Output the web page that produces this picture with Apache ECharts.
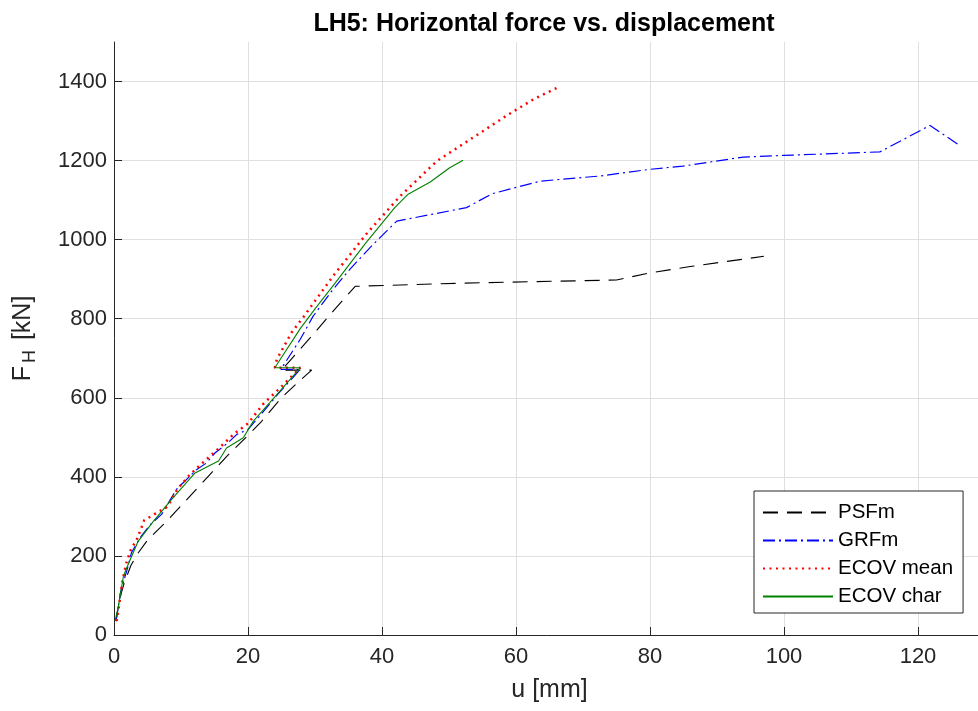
<!DOCTYPE html>
<html>
<head>
<meta charset="utf-8">
<title>LH5: Horizontal force vs. displacement</title>
<script src="https://cdn.jsdelivr.net/npm/echarts@6/dist/echarts.min.js"></script>
<style>
  html, body { margin: 0; padding: 0; background: #fff; }
  #chart { width: 978px; height: 711px; }
</style>
</head>
<body>
<div id="chart"></div>
<script>
// Displacement u [mm] and horizontal force F_H [kN] for each analysis
const psfU = [0.3, 0.8, 1.5, 2.5, 3.5, 5.0, 8.0, 11.0, 14.0, 17.0, 20.0, 22.0, 25.0, 27.5, 29.5, 25.0, 29.3, 33.0, 36.0, 52.0, 75.0, 80.0, 86.0, 97.0];
const psfF = [35, 90, 130, 175, 205, 240, 290, 345, 400, 455, 505, 540, 600, 640, 670, 670, 752, 825, 882, 890, 898, 916, 932, 958];

const grfU = [0.3, 1.0, 2.1, 2.6, 3.9, 5.4, 7.1, 9.3, 12.3, 13.8, 15.1, 17.0, 18.3, 20.0, 21.3, 24.5, 27.8, 24.9, 27.8, 29.7, 32.5, 35.2, 38.5, 42.2, 52.6, 56.4, 63.6, 72.5, 80.0, 84.9, 93.9, 99.9, 114.3, 121.8, 126.3];
const grfF = [35, 110, 174, 208, 246, 279, 305, 368, 418, 435, 461, 486, 507, 520, 545, 610, 672, 672, 748, 806, 870, 925, 985, 1047, 1081, 1116, 1148, 1161, 1178, 1186, 1209, 1213, 1222, 1289, 1237];

const meanU = [0.4, 0.8, 1.2, 1.8, 2.5, 3.5, 4.5, 5.5, 8.0, 9.5, 11.3, 13.0, 15.5, 18.0, 20.0, 22.3, 24.8, 27.8, 24.0, 24.3, 26.5, 28.3, 32.7, 37.7, 42.7, 48.2, 55.1, 58.8, 62.6, 66.1];
const meanF = [35, 80, 130, 180, 215, 245, 290, 300, 325, 370, 405, 432, 470, 510, 535, 585, 625, 676, 676, 697, 765, 805, 908, 1015, 1110, 1199, 1275, 1316, 1355, 1384];

const charU = [0.15, 0.65, 1.4, 1.9, 3.6, 5.9, 8.6, 12.1, 15.6, 16.8, 19.3, 20.8, 24.3, 27.8, 24.0, 27.8, 30.0, 33.0, 37.5, 41.9, 43.9, 47.2, 50.1, 52.1];
const charF = [35, 72, 148, 170, 237, 288, 343, 410, 440, 473, 499, 541, 608, 676, 676, 775, 825, 890, 990, 1081, 1115, 1146, 1182, 1201];

const seriesNames = ['PSFm', 'GRFm', 'ECOV mean', 'ECOV char'];
const xTicks = [0, 20, 40, 60, 80, 100, 120];
const yTicks = [0, 200, 400, 600, 800, 1000, 1200, 1400];

const pairs = (u, f) => u.map((x, i) => [x, f[i]]);

const FONT = 'Liberation Sans, Arial, Helvetica, sans-serif';
const AXIS_COLOR = '#262626';
const GRID_COLOR = '#dfdfdf';

const chart = echarts.init(document.getElementById('chart'), null, { renderer: 'canvas' });

// split lines: one colour per tick, the extra tick at the axis end stays hidden
const ySplitColors = yTicks.map(() => GRID_COLOR).concat(['rgba(0,0,0,0)']);
const xSplitColors = xTicks.map(() => GRID_COLOR).concat(['rgba(0,0,0,0)']);

const option = {
  animation: false,
  backgroundColor: '#ffffff',
  title: {
    text: 'LH5: Horizontal force vs. displacement',
    left: 539,
    textAlign: 'center',
    top: 7,
    textStyle: { fontFamily: FONT, fontSize: 25, fontWeight: 'bold', color: '#000' }
  },
  // the plot area runs past the right edge of the page (axis ends at u = 130)
  grid: { left: 114, top: 42, width: 871, height: 593, containLabel: false, outerBoundsMode: 'none' },
  xAxis: {
    type: 'value',
    min: 0,
    max: 130,
    interval: 20,
    name: 'u [mm]',
    nameLocation: 'middle',
    nameGap: 43,
    nameTextStyle: { fontFamily: FONT, fontSize: 25, color: AXIS_COLOR },
    axisLine: { show: true, lineStyle: { color: AXIS_COLOR, width: 1 } },
    axisTick: { show: true, inside: true, length: 8, lineStyle: { color: AXIS_COLOR } },
    axisLabel: { show: true, fontFamily: FONT, fontSize: 22, color: AXIS_COLOR, margin: 11, showMaxLabel: false,
      formatter: v => (xTicks.indexOf(v) >= 0 ? String(v) : '') },
    splitLine: { show: true, lineStyle: { color: xSplitColors, width: 1 } }
  },
  yAxis: {
    type: 'value',
    min: 0,
    max: 1500,
    interval: 200,
    name: '{n|F}{s|H}{n| [kN]}',
    nameLocation: 'middle',
    nameGap: 75,
    nameRotate: 90,
    nameTextStyle: {
      fontFamily: FONT, fontSize: 25, color: AXIS_COLOR,
      rich: {
        n: { fontFamily: FONT, fontSize: 25, color: AXIS_COLOR },
        s: { fontFamily: FONT, fontSize: 18, color: AXIS_COLOR, verticalAlign: 'bottom', padding: [14, 3, 0, 3] }
      }
    },
    axisLine: { show: true, lineStyle: { color: AXIS_COLOR, width: 1 } },
    axisTick: { show: true, inside: true, length: 8, lineStyle: { color: AXIS_COLOR } },
    axisLabel: { show: true, fontFamily: FONT, fontSize: 22, color: AXIS_COLOR, margin: 7, showMaxLabel: false,
      formatter: v => (yTicks.indexOf(v) >= 0 ? String(v) : '') },
    splitLine: { show: true, lineStyle: { color: ySplitColors, width: 1 } }
  },
  legend: {
    orient: 'vertical',
    left: 754,
    top: 491,
    padding: [11, 10, 6, 8],
    itemGap: 7,
    itemWidth: 70,
    itemHeight: 22,
    backgroundColor: '#ffffff',
    borderColor: AXIS_COLOR,
    borderWidth: 1,
    borderRadius: 0,
    itemStyle: { color: 'rgba(0,0,0,0)', borderColor: 'rgba(0,0,0,0)', borderWidth: 0 },
    textStyle: { fontFamily: FONT, fontSize: 20.5, color: '#000' },
    data: seriesNames.map(n => ({ name: n }))
  },
  series: [
    {
      name: seriesNames[0], type: 'line', symbol: 'none', smooth: false,
      lineStyle: { color: '#000000', width: 1.1, type: [15, 9] },
      itemStyle: { color: '#000000' },
      data: pairs(psfU, psfF)
    },
    {
      name: seriesNames[1], type: 'line', symbol: 'none', smooth: false,
      lineStyle: { color: '#0000ff', width: 1.2, type: [12, 4, 2, 4] },
      itemStyle: { color: '#0000ff' },
      data: pairs(grfU, grfF)
    },
    {
      name: seriesNames[2], type: 'line', symbol: 'none', smooth: false,
      lineStyle: { color: '#ff0000', width: 2.5, type: [2, 4.5] },
      itemStyle: { color: '#ff0000' },
      data: pairs(meanU, meanF)
    },
    {
      name: seriesNames[3], type: 'line', symbol: 'none', smooth: false,
      lineStyle: { color: '#008000', width: 1.1, type: 'solid' },
      itemStyle: { color: '#008000' },
      data: pairs(charU, charF)
    }
  ]
};

chart.setOption(option);
</script>
</body>
</html>
